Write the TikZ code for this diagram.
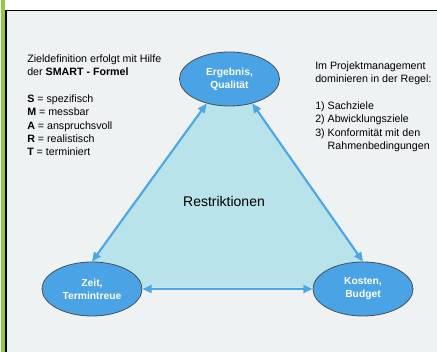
\documentclass[tikz,border=0pt]{standalone}
\usepackage{fontspec}
\setmainfont{Liberation Sans}
\usepackage{tikz}
\usetikzlibrary{shapes.geometric, arrows.meta, positioning, calc, backgrounds}
\definecolor{PanelGray}{HTML}{EEF2F2}
\definecolor{BarGreen}{HTML}{8DC94A}
\definecolor{SkyBlue}{HTML}{4AA3E4}
\definecolor{ArrowBlue}{HTML}{4DA6E8}
\definecolor{PaleCyan}{HTML}{B9E3EA}
\definecolor{RimGray}{HTML}{4A4F55}
\newcommand{\smartkey}[1]{\textbf{#1}}

\begin{document}
\begin{tikzpicture}[x=0.75pt, y=-0.75pt,
  goal/.style={ellipse, draw=RimGray, line width=0.6pt, fill=SkyBlue,
               minimum width=75pt, minimum height=40.5pt, inner sep=0pt,
               text=white, align=center, font=\fontsize{7.7}{9.75}\selectfont\bfseries},
  link/.style={draw=ArrowBlue, line width=1.6pt,
               {Triangle[length=7pt,width=6pt]}-{Triangle[length=7pt,width=6pt]}},
  note/.style={anchor=north west, inner sep=0pt, align=left,
               font=\fontsize{8}{10}\selectfont}]
\useasboundingbox (0,0) rectangle (437,352);

\node[goal] (ergebnis) at (229.5,79) {Ergebnis,\\Qualität};
\node[goal] (zeit) at (92,289) {Zeit,\\Termintreue};
\node[goal] (kosten) at (363,289) {Kosten,\\Budget};

\begin{scope}[on background layer]
  \fill[white] (0,0) rectangle (437,352);
  \fill[PanelGray] (7,11) rectangle (437,352);
  \fill[BarGreen] (0.7,0) rectangle (5,352);
  \fill[PaleCyan] (ergebnis.227) -- (ergebnis.313)
    -- ($(ergebnis.313)!1.164!(kosten.north)$)
    -- ($(ergebnis.227)!1.164!(zeit.north)$) -- cycle;
\end{scope}
\draw[line width=1.2pt] (437,10.6) -- (6,10.6) -- (6,352);

\draw[link] (ergebnis.227) -- (zeit.north);
\draw[link] (ergebnis.313) -- (kosten.north);
\draw[link] (zeit.east) -- (kosten.west);

\node (restr) at (224,202) {\fontsize{10.5}{12}\selectfont Restriktionen};

\node[note] (smart) at (27,54.5) {%
  Zieldefinition erfolgt mit Hilfe\\
  der \smartkey{SMART - Formel}\\[10pt]
  \smartkey{S} = spezifisch\\
  \smartkey{M} = messbar\\
  \smartkey{A} = anspruchsvoll\\
  \smartkey{R} = realistisch\\
  \smartkey{T} = terminiert};

\node[note] (regel) at (315,61.5) {%
  Im Projektmanagement\\
  dominieren in der Regel:\\[10pt]
  1) Sachziele\\
  2) Abwicklungsziele\\
  3) Konformität mit den\\
  \hphantom{3)\ }Rahmenbedingungen};
\end{tikzpicture}
\end{document}
